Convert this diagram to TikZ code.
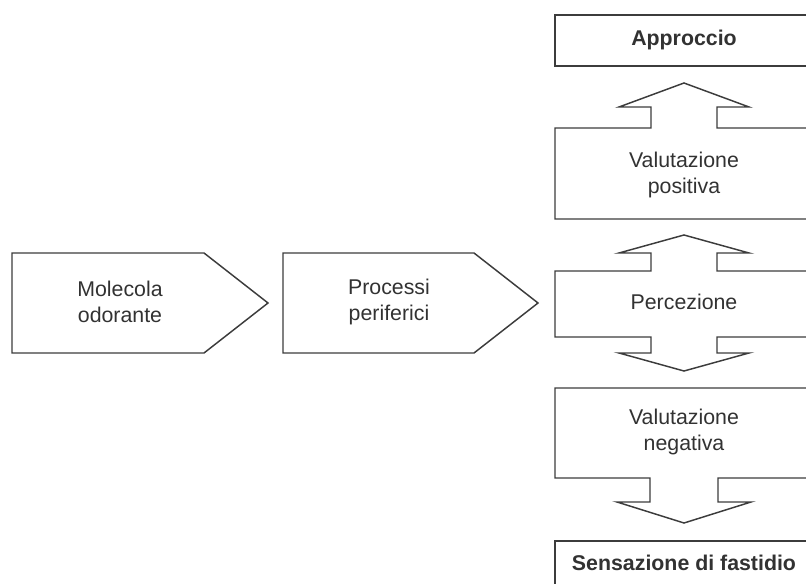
\documentclass[tikz,border=0pt]{standalone}
\usepackage{fontspec}
\setmainfont{Liberation Sans}
\definecolor{outline}{RGB}{60,60,60}
\definecolor{txtgray}{RGB}{50,50,50}
\tikzset{
	blockline/.style={draw=outline, line width=1.1pt, line join=miter},
	lbl/.style={inner sep=0.75pt, align=center, text=txtgray, font=\fontsize{16}{19.5}\selectfont},
	lblbold/.style={lbl, font=\fontsize{16}{19.5}\selectfont\bfseries}
}

\begin{document}
\begin{tikzpicture}[x=0.75pt,y=0.75pt,yscale=-1,xscale=1]
	\useasboundingbox (0,0) rectangle (806,584);
	\clip (0,0) rectangle (806,584);
	
	%Shape: Pentagon (Molecola odorante)
	\draw [blockline] (12,253) -- (204,253) -- (268,303) -- (204,353) -- (12,353) -- cycle ;
	%Shape: Pentagon (Processi periferici)
	\draw [blockline] (283,253) -- (474,253) -- (538,303) -- (474,353) -- (283,353) -- cycle ;
	
	%Shape: Rectangle (Approccio)
	\draw [blockline] (555,15) rectangle (815,66) ;
	%Shape: Box with up arrow (Valutazione positiva)
	\draw [blockline] (555,219) -- (555,128) -- (651,128) -- (651,107) -- (619,107) -- (684,83) -- (749,107) -- (717,107) -- (717,128) -- (815,128) -- (815,219) -- cycle ;
	%Shape: Box with up and down arrows (Percezione)
	\draw [blockline] (555,337) -- (555,271) -- (651,271) -- (651,253) -- (619,253) -- (684,235) -- (749,253) -- (717,253) -- (717,271) -- (815,271) -- (815,337) -- (717,337) -- (717,353) -- (749,353) -- (684,371) -- (619,353) -- (651,353) -- (651,337) -- cycle ;
	%Shape: Box with down arrow (Valutazione negativa)
	\draw [blockline] (555,388) -- (815,388) -- (815,478) -- (718,478) -- (718,502) -- (751,502) -- (684,523) -- (617,502) -- (650,502) -- (650,478) -- (555,478) -- cycle ;
	%Shape: Rectangle (Sensazione di fastidio)
	\draw [blockline] (555,541) rectangle (815,600) ;
	
	% Text Node
	\node (molecola) at (120,302) [lbl] {Molecola\\odorante};
	% Text Node
	\node (processi) at (389,302) [lbl] {Processi\\periferici};
	% Text Node
	\node (approccio) at (684,40) [lblbold] {Approccio};
	% Text Node
	\node (valpos) at (684,175) [lbl] {Valutazione\\positiva};
	% Text Node
	\node (percezione) at (684,302) [lbl] {Percezione};
	% Text Node
	\node (valneg) at (684,432) [lbl] {Valutazione\\negativa};
	% Text Node
	\node (fastidio) at (684,563) [lblbold] {Sensazione di fastidio};
	
\end{tikzpicture}
\end{document}
